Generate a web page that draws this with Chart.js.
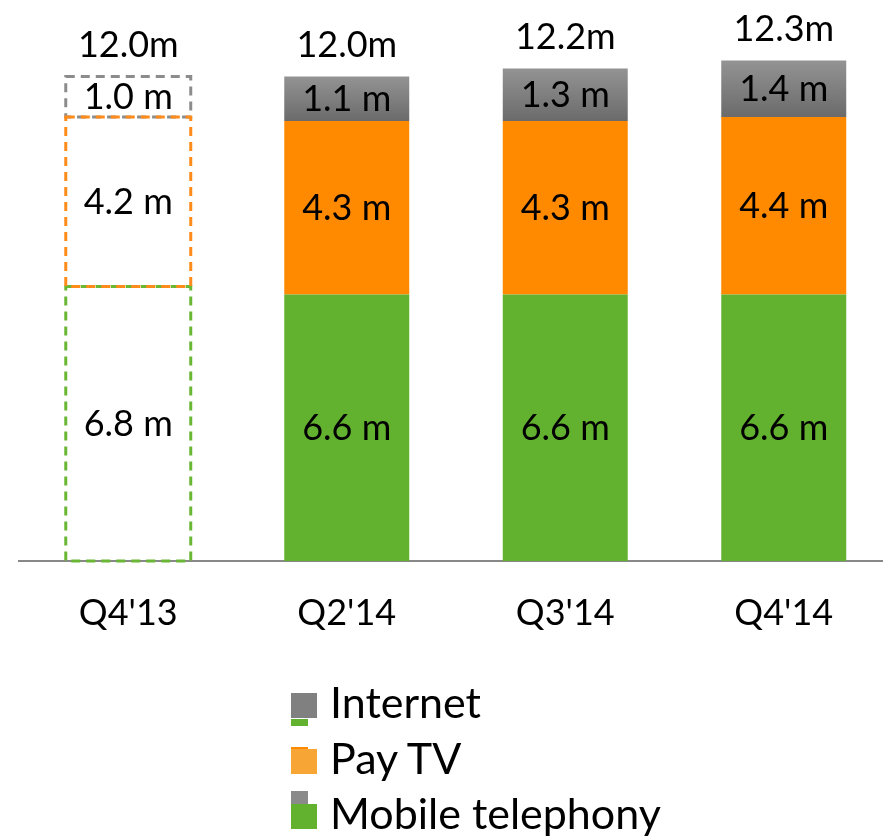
<!DOCTYPE html>
<html>
<head>
<meta charset="utf-8">
<script src="https://cdn.jsdelivr.net/npm/chart.js@4.4.1/dist/chart.umd.min.js"></script>
<style>
  html, body { margin: 0; padding: 0; background: #fff; overflow: hidden; }
  #wrap { position: relative; width: 883px; height: 837px; overflow: hidden; }
  #cbox { position: absolute; left: 0; top: 0; width: 900px; height: 837px; }
  .lg { position: absolute; left: 0; top: 0; font-family: Lato, "Noto Sans", sans-serif; font-size: 43px; line-height: 43px; color: #000; white-space: nowrap; }
  .sw { position: absolute; }
</style>
</head>
<body>
<div id="wrap">
  <div id="cbox"><canvas id="c" width="900" height="837"></canvas></div>
  <div id="legend"></div>
</div>
<script>
// ---- data ----
const categories = ["Q4'13", "Q2'14", "Q3'14", "Q4'14"];
const mobileTelephony = [6.8, 6.6, 6.6, 6.6];
const payTV = [4.2, 4.3, 4.3, 4.4];
const internet = [1.0, 1.1, 1.3, 1.4];
const totalLabels = ["12.0m", "12.0m", "12.2m", "12.3m"];
const seriesNames = ["Mobile telephony", "Pay TV", "Internet"];
const unitSuffix = " m";

// ---- styles ----
const GREEN = '#63b22f';
const ORANGE = '#ff8a00';
const GREY_TOP = '#939393';
const GREY_BOT = '#6b6b6b';
const FONT = 'Lato, "Noto Sans", sans-serif';

function internetFill(ctx) {
  const chart = ctx.chart;
  if (!chart.chartArea || ctx.dataIndex === undefined) return '#808080';
  const i = ctx.dataIndex;
  if (i === 0) return 'rgba(0,0,0,0)';
  const y = chart.scales.y;
  const top = y.getPixelForValue(mobileTelephony[i] + payTV[i] + internet[i]);
  const bot = y.getPixelForValue(mobileTelephony[i] + payTV[i]);
  const g = chart.ctx.createLinearGradient(0, top, 0, bot);
  g.addColorStop(0, GREY_TOP);
  g.addColorStop(1, GREY_BOT);
  return g;
}

const firstBarDashed = {
  id: 'firstBarDashed',
  afterDatasetsDraw(chart) {
    const ctx = chart.ctx;
    const order = [2, 0, 1]; // internet, mobile, pay TV on top
    const colors = ['#6ab735', '#ff8c1a', '#8c8c8c'];
    ctx.save();
    ctx.lineWidth = 3;
    ctx.setLineDash([9, 6]);
    order.forEach(di => {
      const el = chart.getDatasetMeta(di).data[0];
      const left = el.x - el.width / 2;
      ctx.strokeStyle = colors[di];
      ctx.beginPath();
      ctx.rect(left, el.y, el.width, el.base - el.y);
      ctx.stroke();
    });
    ctx.restore();
  }
};

const labelsPlugin = {
  id: 'labelsPlugin',
  afterDatasetsDraw(chart) {
    const ctx = chart.ctx;
    ctx.save();
    ctx.font = '36px ' + FONT;
    ctx.fillStyle = '#000';
    ctx.textAlign = 'center';
    ctx.textBaseline = 'middle';
    chart.data.datasets.forEach((ds, di) => {
      chart.getDatasetMeta(di).data.forEach((el, i) => {
        const v = ds.data[i];
        ctx.fillText(v.toFixed(1) + unitSuffix, el.x, (el.y + el.base) / 2 + 1);
      });
    });
    const topMeta = chart.getDatasetMeta(2);
    topMeta.data.forEach((el, i) => {
      ctx.fillText(totalLabels[i], el.x, el.y - 31);
    });
    ctx.restore();
  }
};

new Chart(document.getElementById('c'), {
  type: 'bar',
  data: {
    labels: categories,
    datasets: [
      { label: seriesNames[0], data: mobileTelephony,
        backgroundColor: (c) => c.dataIndex === 0 ? 'rgba(0,0,0,0)' : GREEN, borderWidth: 0 },
      { label: seriesNames[1], data: payTV,
        backgroundColor: (c) => c.dataIndex === 0 ? 'rgba(0,0,0,0)' : ORANGE, borderWidth: 0 },
      { label: seriesNames[2], data: internet,
        backgroundColor: internetFill, borderWidth: 0 }
    ]
  },
  options: {
    responsive: false,
    animation: false,
    events: [],
    barPercentage: 0.572,
    categoryPercentage: 1,
    layout: { padding: { left: 19, right: 7, top: 16, bottom: 0 } },
    plugins: { legend: { display: false }, tooltip: { enabled: false } },
    scales: {
      x: {
        stacked: true,
        afterFit: (s) => { s.height = 276; },
        grid: { display: true, color: 'rgba(0,0,0,0)', drawTicks: false },
        border: { display: true, color: '#888888', width: 2 },
        ticks: { color: '#000', font: { family: FONT, size: 36 }, padding: 31 }
      },
      y: {
        stacked: true,
        display: false,
        min: 0,
        max: 13.5
      }
    }
  },
  plugins: [firstBarDashed, labelsPlugin]
});

// ---- legend (HTML) ----
const legendItems = [
  { name: seriesNames[2], color: '#808080', baseline: 718, extra: { color: '#63b22f', dy: 1, h: 7 } },
  { name: seriesNames[1], color: '#f7a535', baseline: 774, extra: { color: '#ff8a00', dy: -27, h: 3 } },
  { name: seriesNames[0], color: '#63b22f', baseline: 829, extra: { color: '#8a8a8a', dy: -38, h: 14 } }
];
const lg = document.getElementById('legend');
legendItems.forEach(it => {
  if (it.extra) {
    const ex = document.createElement('div');
    ex.className = 'sw';
    ex.style.cssText = `left:291px;top:${it.baseline + it.extra.dy}px;width:17px;height:${it.extra.h}px;background:${it.extra.color}`;
    lg.appendChild(ex);
  }
  const sw = document.createElement('div');
  sw.className = 'sw';
  sw.style.cssText = `left:291px;top:${it.baseline - 25}px;width:26px;height:25px;background:${it.color}`;
  lg.appendChild(sw);
  const t = document.createElement('div');
  t.className = 'lg';
  t.textContent = it.name;
  t.style.left = '330px';
  t.style.top = (it.baseline - 38) + 'px';
  lg.appendChild(t);
});
</script>
</body>
</html>
